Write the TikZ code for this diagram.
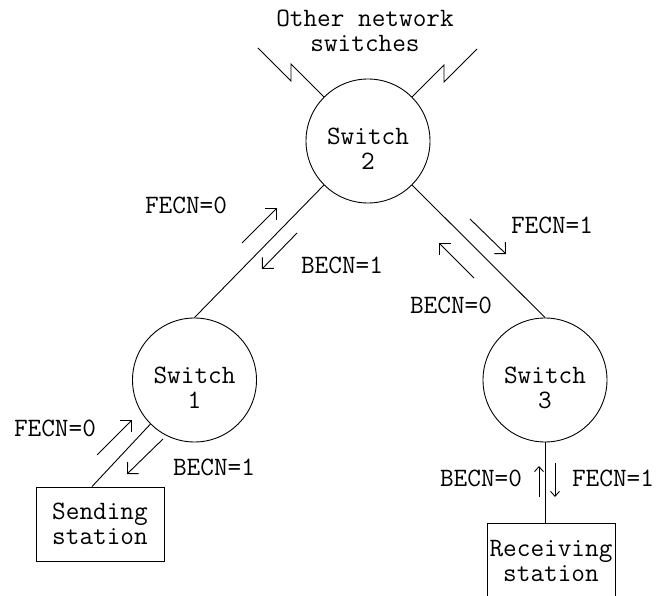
\documentclass[tikz,border=0pt]{standalone}
\usetikzlibrary{arrows.meta}
\begin{document}
\begin{tikzpicture}[x=1pt,y=-1pt,line width=0.9pt,
    font=\ttfamily\fontsize{26.5}{25}\selectfont,
    switch/.style={draw,circle,minimum size=124pt,inner sep=0pt},
    swtext/.style={align=center,yshift=-8pt},
    station/.style={draw,rectangle,minimum width=128pt,minimum height=74pt,inner sep=0pt,align=center},
    flag/.style={-{Straight Barb[length=8pt,width=16pt]}},
    vflag/.style={-{Straight Barb[length=5pt,width=9pt]}}]
  \useasboundingbox (0,0) rectangle (657,596);
  \node[switch,label={[swtext,name=sw2txt]center:Switch\\2}] (sw2) at (368,141) {};
  \node[switch,label={[swtext,name=sw1txt]center:Switch\\1}] (sw1) at (194.5,380) {};
  \node[switch,label={[swtext,name=sw3txt]center:Switch\\3}] (sw3) at (545,380) {};
  \node[station] (send) at (100,524) {Sending\\station};
  \node[station,anchor=north,minimum height=76pt] (recv) at (551,523) {Receiving\\station};
  \node[align=center] (other) at (365,31) {Other network\\switches};
  \draw (sw2.south west) -- (sw1.north);
  \draw (sw2.south east) -- (sw3.north);
  \draw (sw1.south west) -- ([xshift=-8pt]send.north);
  \draw (sw3.south) -- (sw3.south |- recv.north);
  \draw (sw2.north west) -- (291,64) -- (291,81) -- (258,48);
  \draw (sw2.north east) -- (444,65) -- (444,82) -- (477,49);
  \node (f21) at (186,205) {FECN=0};
  \node (b21) at (342,265) {BECN=1};
  \node (f23) at (552,225) {FECN=1};
  \node (b23) at (451,305) {BECN=0};
  \node (f1s) at (55,428) {FECN=0};
  \node (b1s) at (214,467) {BECN=1};
  \node (b3r) at (481,478) {BECN=0};
  \node (f3r) at (613,478) {FECN=1};
  \foreach \xa/\ya/\xb/\yb in {242/243/277/208, 297/233/262/269,
                               470/219/506/254, 474/278/439/243,
                               97/455/132/420, 163/439/127/474}
    \draw[flag] (\xa,\ya) -- (\xb,\yb);
  \draw[vflag] (539,497) -- (539,466);
  \draw[vflag] (555,463) -- (555,497);
\end{tikzpicture}
\end{document}
